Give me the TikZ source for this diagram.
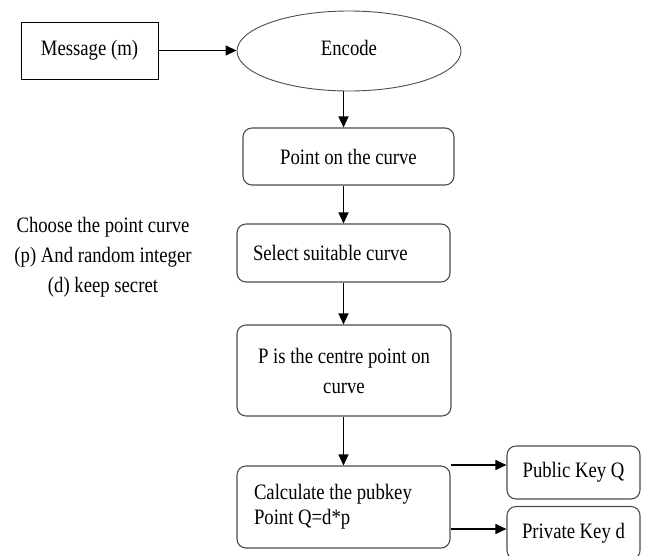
\documentclass[tikz,border=0pt]{standalone}
\usepackage{fontspec}
\setmainfont{Liberation Serif}[FakeStretch=0.85]
\usetikzlibrary{shapes.geometric,arrows.meta,calc}
\begin{document}
\begin{tikzpicture}[x=1pt,y=-1pt,
  font=\fontsize{22}{30}\selectfont,
  sqbox/.style={draw=black,line width=0.9pt,minimum width=137pt,minimum height=57pt,inner sep=0pt},
  oval/.style={ellipse,draw=black!70,line width=0.9pt,minimum width=224pt,minimum height=80pt,inner sep=0pt},
  rbox/.style={draw=black!70,line width=1.1pt,rounded corners=9pt,inner sep=0pt,align=center},
  arr/.style={-{Triangle[length=11pt,width=10pt]},line width=1.3pt,draw=black}]
\useasboundingbox (0,0) rectangle (647,555);
\clip (0,0) rectangle (647,555);

% input and encoding
\node[sqbox] (msg) at (89.5,50.5) {Message (m)};
\node[oval] (enc) at (349,51) {\raisebox{6pt}{Encode}};

% main column
\node[rbox,minimum width=211pt,minimum height=57pt] (pt) at (348.5,156.5) {Point on the curve};
\node[rbox,minimum height=58pt,text width=181pt,inner xsep=16pt,align=flush left] (sel) at (343.5,253) {Select suitable curve};
\node[rbox,minimum width=214pt,minimum height=91pt] (cp) at (344,370.5) {P is the centre point on\\curve};
\node[rbox,minimum height=82pt,text width=179pt,inner xsep=17pt,align=flush left,
      font=\fontsize{22}{25}\selectfont] (calc) at (343.5,507) {Calculate the pubkey\\Point Q=d*p};

% key outputs
\node[rbox,minimum width=133pt,minimum height=53pt] (pub) at (573.5,472.5) {Public Key Q};
\node[rbox,minimum width=133pt,minimum height=53pt] (priv) at (573.5,533) {\raisebox{3pt}{Private Key d}};

% side note
\node[align=center] (note) at (103,257) {Choose the point curve\\(p) And random integer\\(d) keep secret};

% connectors
\draw[arr] (msg.east) -- (msg.east -| enc.west);
\draw[arr] (enc.south -| sel.north) -- (pt.north -| sel.north);
\draw[arr] (pt.south -| sel.north) -- (sel.north);
\draw[arr] (sel.south) -- (cp.north -| sel.south);
\draw[arr] (cp.south -| sel.south) -- (calc.north);
\draw[arr] ([yshift=7.5pt]pub.west -| calc.east) -- ([yshift=7.5pt]pub.west);
\draw[arr] ([yshift=4pt]priv.west -| calc.east) -- ([yshift=4pt]priv.west);
\end{tikzpicture}
\end{document}
